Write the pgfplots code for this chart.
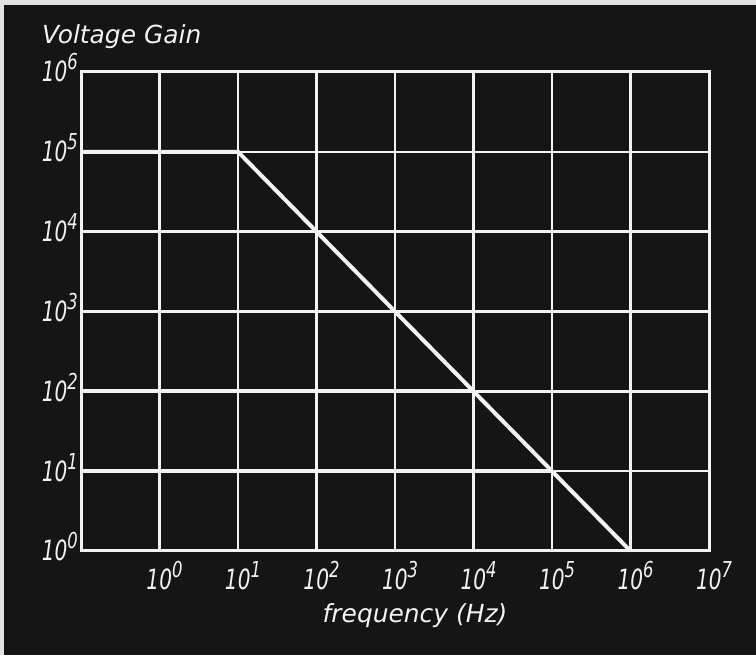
\documentclass[border=0pt]{standalone}
\usepackage{fontspec}
\setmainfont{DejaVu Sans}
\usepackage{graphicx}
\usepackage{pgfplots}
\pgfplotsset{compat=1.18}
\definecolor{bg}{HTML}{151515}
\definecolor{fg}{HTML}{F2F2F2}
\definecolor{edge}{HTML}{E2E2E2}
\newcommand{\tl}[1]{{\fontsize{28}{28}\selectfont\itshape\scalebox{0.72}[1]{10}\raisebox{12bp}{\fontsize{22}{22}\selectfont\scalebox{0.75}[1]{#1}}}}
\begin{document}
\begin{tikzpicture}[x=1bp,y=1bp]
\fill[edge] (0,0) rectangle (756,655);
\fill[bg] (4,0) rectangle (756,650);
\begin{axis}[
  at={(81bp,104bp)}, anchor=south west,
  scale only axis, width=628bp, height=479bp,
  xmode=log, ymode=log,
  xmin=0.1, xmax=1e7, ymin=1, ymax=1e6,
  xtick={1,10,100,1000,10000,100000,1000000,10000000},
  xticklabels={\tl{0},\tl{1},\tl{2},\tl{3},\tl{4},\tl{5},\tl{6},\tl{7}},
  ytick={1,10,100,1000,10000,100000,1000000},
  yticklabels={\tl{0},\tl{1},\tl{2},\tl{3},\tl{4},\tl{5},\tl{6}},
  minor xtick={}, minor ytick={},
  major tick length=0pt,
  tick style={draw=none},
  grid=major,
  major grid style={fg, line width=2.5bp},
  axis line style={fg, line width=3bp},
  xticklabel style={text=fg, anchor=north, inner sep=0pt, yshift=-10bp, xshift=5bp},
  yticklabel style={text=fg, anchor=base east, inner sep=0pt, yshift=-10bp, xshift=-3bp},
  clip=false,
]
\addplot[fg, line width=4bp] coordinates {(0.1,1e5) (10,1e5) (1e6,1)};
\addplot[fg, line width=4bp] coordinates {(0.1,100) (1e4,100)};
\addplot[fg, line width=4bp] coordinates {(0.1,10) (1e5,10)};
\end{axis}
\node[anchor=base west, inner sep=0pt, text=fg, font=\fontsize{25}{25}\selectfont\itshape] at (42,611) {Voltage Gain};
\node[anchor=base, inner sep=0pt, text=fg, font=\fontsize{25}{25}\selectfont\itshape] at (415,32) {frequency (Hz)};
\end{tikzpicture}
\end{document}
